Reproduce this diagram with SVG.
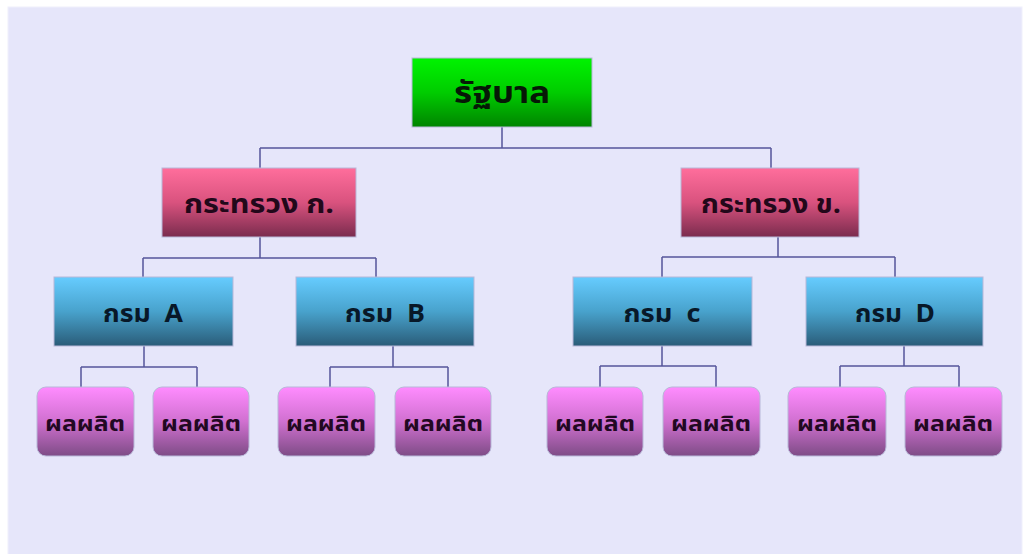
<svg xmlns="http://www.w3.org/2000/svg" width="1026" height="554" viewBox="0 0 1026 554">
<defs>
<linearGradient id="gGreen" x1="0" y1="0" x2="0" y2="1"><stop offset="0" stop-color="#00f400"/><stop offset="0.5" stop-color="#00cc00"/><stop offset="1" stop-color="#008400"/></linearGradient>
<linearGradient id="gPink" x1="0" y1="0" x2="0" y2="1"><stop offset="0" stop-color="#ff6e9c"/><stop offset="0.5" stop-color="#d9527e"/><stop offset="1" stop-color="#7a2c4e"/></linearGradient>
<linearGradient id="gBlue" x1="0" y1="0" x2="0" y2="1"><stop offset="0" stop-color="#66ccff"/><stop offset="0.5" stop-color="#48a2cc"/><stop offset="1" stop-color="#2a5c78"/></linearGradient>
<linearGradient id="gViolet" x1="0" y1="0" x2="0" y2="1"><stop offset="0" stop-color="#ff8cff"/><stop offset="0.5" stop-color="#d070d0"/><stop offset="1" stop-color="#7e4c86"/></linearGradient>
</defs>
<style>
.bx{stroke:#b8b8d8;stroke-width:1}
.t{font-family:"Noto Sans Thai","Noto Sans","DejaVu Sans","Liberation Sans",sans-serif;font-weight:bold;text-anchor:middle;dominant-baseline:central}
.root{font-size:30px;fill:#061806}
.min{font-size:26px;fill:#22081a}
.dep{font-size:25px;fill:#081828}
.prd{font-size:22px;fill:#220822}
.ln{fill:none;stroke:#55559a;stroke-width:1.5}
</style>
<rect width="1026" height="554" fill="#ffffff"/>
<rect x="8" y="7" width="1014" height="550" fill="#e6e6fa" stroke="#f0f0fc" stroke-width="1"/>
<g id="connectors">
<path class="ln" d="M502 127V148M260 148H771M260 148V168M771 148V168"/>
<path class="ln" d="M260 237V258M143 258H376M143 258V277M376 258V277"/>
<path class="ln" d="M778 237V257M662 257H895M662 257V277M895 257V277"/>
<path class="ln" d="M144 346V367M81 367H197M81 367V388M197 367V388"/>
<path class="ln" d="M393 346V367M330 367H448M330 367V388M448 367V388"/>
<path class="ln" d="M662 346V366M600 366H716M600 366V388M716 366V388"/>
<path class="ln" d="M904 346V366M840 366H959M840 366V388M959 366V388"/>
</g>
<g id="root"><rect class="bx" x="412" y="58" width="180" height="69" fill="url(#gGreen)"/><text class="t root" x="502" y="94" textLength="96" lengthAdjust="spacingAndGlyphs">รัฐบาล</text></g>
<g id="ministry-k"><rect class="bx" x="162" y="168" width="194" height="69" fill="url(#gPink)"/><text class="t min" x="259" y="205" textLength="150" lengthAdjust="spacingAndGlyphs">กระทรวง ก.</text></g>
<g id="ministry-kh"><rect class="bx" x="681" y="168" width="178" height="69" fill="url(#gPink)"/><text class="t min" x="771" y="205" textLength="140" lengthAdjust="spacingAndGlyphs">กระทรวง ข.</text></g>
<g id="dept-a"><rect class="bx" x="54" y="277" width="179" height="69" fill="url(#gBlue)"/><text class="t dep" x="143" y="314" xml:space="preserve" textLength="80" lengthAdjust="spacingAndGlyphs">กรม  A</text></g>
<g id="dept-b"><rect class="bx" x="296" y="277" width="178" height="69" fill="url(#gBlue)"/><text class="t dep" x="385" y="314" xml:space="preserve" textLength="80" lengthAdjust="spacingAndGlyphs">กรม  B</text></g>
<g id="dept-c"><rect class="bx" x="573" y="277" width="179" height="69" fill="url(#gBlue)"/><text class="t dep" x="662" y="314" xml:space="preserve" textLength="77" lengthAdjust="spacingAndGlyphs">กรม  c</text></g>
<g id="dept-d"><rect class="bx" x="806" y="277" width="177" height="69" fill="url(#gBlue)"/><text class="t dep" x="895" y="314" xml:space="preserve" textLength="80" lengthAdjust="spacingAndGlyphs">กรม  D</text></g>
<g id="prod-a1"><rect class="bx" x="37" y="387" width="97" height="69" rx="9" fill="url(#gViolet)"/><text class="t prd" x="85" y="424" textLength="80" lengthAdjust="spacingAndGlyphs">ผลผลิต</text></g>
<g id="prod-a2"><rect class="bx" x="153" y="387" width="96" height="69" rx="9" fill="url(#gViolet)"/><text class="t prd" x="201" y="424" textLength="80" lengthAdjust="spacingAndGlyphs">ผลผลิต</text></g>
<g id="prod-b1"><rect class="bx" x="278" y="387" width="97" height="69" rx="9" fill="url(#gViolet)"/><text class="t prd" x="326" y="424" textLength="80" lengthAdjust="spacingAndGlyphs">ผลผลิต</text></g>
<g id="prod-b2"><rect class="bx" x="395" y="387" width="96" height="69" rx="9" fill="url(#gViolet)"/><text class="t prd" x="443" y="424" textLength="80" lengthAdjust="spacingAndGlyphs">ผลผลิต</text></g>
<g id="prod-c1"><rect class="bx" x="547" y="387" width="96" height="69" rx="9" fill="url(#gViolet)"/><text class="t prd" x="595" y="424" textLength="80" lengthAdjust="spacingAndGlyphs">ผลผลิต</text></g>
<g id="prod-c2"><rect class="bx" x="663" y="387" width="97" height="69" rx="9" fill="url(#gViolet)"/><text class="t prd" x="711" y="424" textLength="80" lengthAdjust="spacingAndGlyphs">ผลผลิต</text></g>
<g id="prod-d1"><rect class="bx" x="788" y="387" width="98" height="69" rx="9" fill="url(#gViolet)"/><text class="t prd" x="837" y="424" textLength="80" lengthAdjust="spacingAndGlyphs">ผลผลิต</text></g>
<g id="prod-d2"><rect class="bx" x="905" y="387" width="97" height="69" rx="9" fill="url(#gViolet)"/><text class="t prd" x="953" y="424" textLength="80" lengthAdjust="spacingAndGlyphs">ผลผลิต</text></g>
</svg>
